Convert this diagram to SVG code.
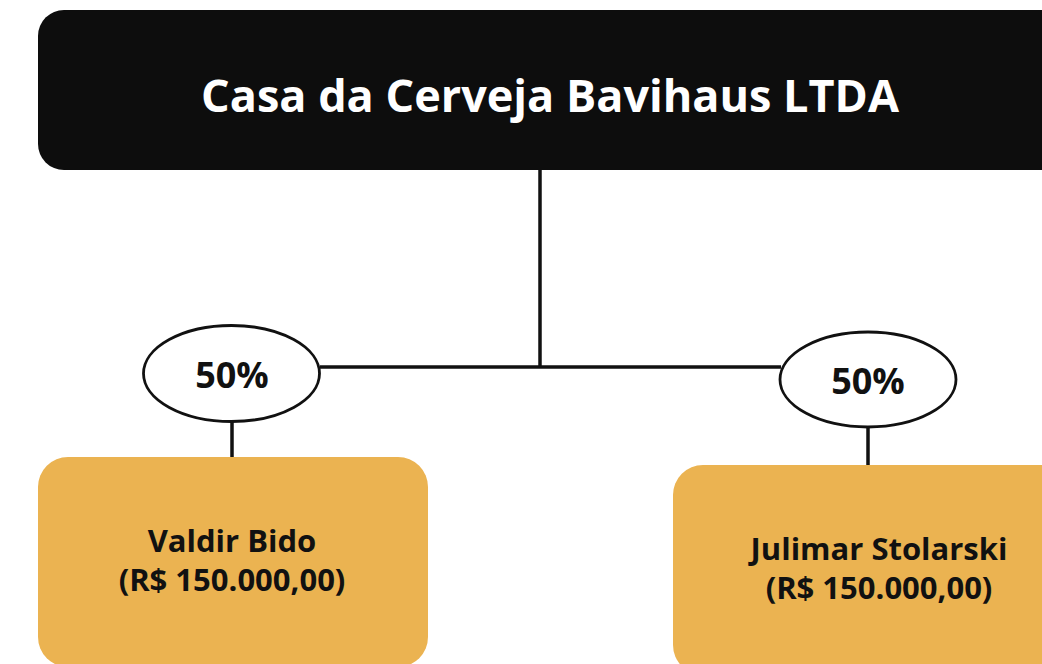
<svg xmlns="http://www.w3.org/2000/svg" width="1042" height="664" viewBox="0 0 1042 664">
<style>
.t{font-family:"Open Sans","Noto Sans","Liberation Sans",sans-serif;font-weight:700;text-anchor:middle;fill:#111111}
.ln{stroke:#111111;stroke-width:3.5;fill:none}
.box{fill:#EBB351}
.ell{fill:#ffffff;stroke:#111111;stroke-width:2.8}
</style>
<rect width="1042" height="664" fill="#ffffff"/>
<g id="connectors">
<line class="ln" x1="540" y1="170" x2="540" y2="368"/>
<line class="ln" x1="320" y1="367" x2="781" y2="367"/>
<line class="ln" x1="232" y1="421" x2="232" y2="458"/>
<line class="ln" x1="868" y1="427" x2="868" y2="466"/>
</g>
<g id="company">
<rect x="38" y="10" width="1040" height="160" rx="26" fill="#0d0d0d"/>
<text class="t" x="550" y="112" font-size="45" style="fill:#ffffff">Casa da Cerveja Bavihaus LTDA</text>
</g>
<g id="share-left">
<ellipse class="ell" cx="231.5" cy="373.5" rx="88" ry="48"/>
<text class="t" x="232" y="388" font-size="36">50%</text>
</g>
<g id="share-right">
<ellipse class="ell" cx="868" cy="379.5" rx="88" ry="47.5"/>
<text class="t" x="868" y="394" font-size="36">50%</text>
</g>
<g id="partner-valdir">
<rect class="box" x="38" y="457" width="390" height="210" rx="30"/>
<text class="t" x="232" y="552" font-size="31">Valdir Bido</text>
<text class="t" x="232" y="591" font-size="31">(R$ 150.000,00)</text>
</g>
<g id="partner-julimar">
<rect class="box" x="673" y="465" width="400" height="210" rx="30"/>
<text class="t" x="879" y="560" font-size="31">Julimar Stolarski</text>
<text class="t" x="879" y="599" font-size="31">(R$ 150.000,00)</text>
</g>
</svg>
